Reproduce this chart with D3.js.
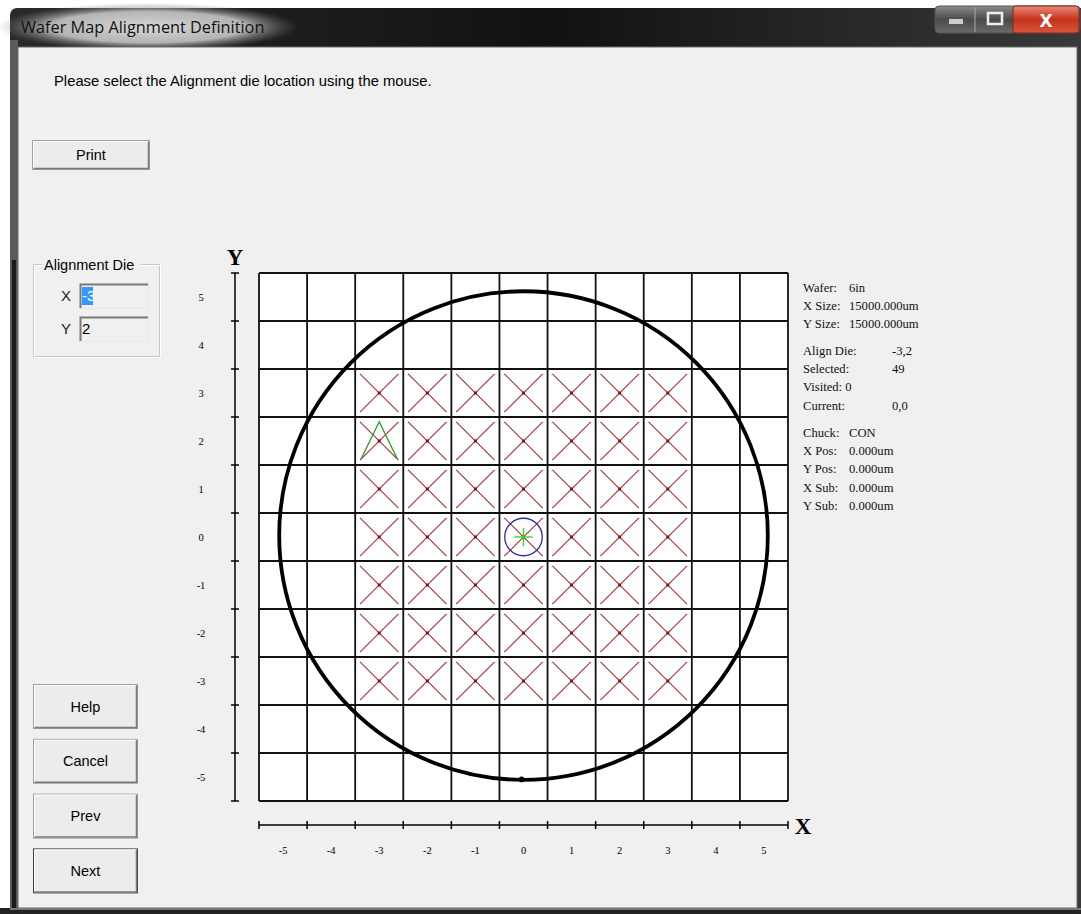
<!DOCTYPE html>
<html><head><meta charset="utf-8">
<script src="https://cdn.jsdelivr.net/npm/d3@7"></script>
<style>body{margin:0;background:#fff;overflow:hidden} svg{display:block}</style>
</head><body>
<svg id="c" width="1081" height="914"></svg>
<script>
// ---- data ----
const dieX = [-5,-4,-3,-2,-1,0,1,2,3,4,5];
const dieY = [5,4,3,2,1,0,-1,-2,-3,-4,-5];
const selectedX = [-3,-2,-1,0,1,2,3];
const selectedY = [3,2,1,0,-1,-2,-3];
const alignDie = [-3,2];
const currentDie = [0,0];
const waferDiameterUm = 152400;
const dieSizeUm = 15000;
const infoGroup1 = [["Wafer:","6in"],["X Size:","15000.000um"],["Y Size:","15000.000um"]];
const infoGroup2 = [["Align Die:","-3,2"],["Selected:","49"],["Visited: 0",""],["Current:","0,0"]];
const infoGroup3 = [["Chuck:","CON"],["X Pos:","0.000um"],["Y Pos:","0.000um"],["X Sub:","0.000um"],["Y Sub:","0.000um"]];
const navButtons = ["Help","Cancel","Prev","Next"];
const titleText = "Wafer Map Alignment Definition";
const promptText = "Please select the Alignment die location using the mouse.";

const svg = d3.select("#c");
const defs = svg.append("defs");

// ---- window chrome ----
const tg = defs.append("linearGradient").attr("id","tb").attr("x1",0).attr("x2",1).attr("y1",0).attr("y2",0);
tg.append("stop").attr("offset","0%").attr("stop-color","#2a2a2a");
tg.append("stop").attr("offset","50%").attr("stop-color","#111");
tg.append("stop").attr("offset","100%").attr("stop-color","#3a3a3a");
svg.append("rect").attr("x",10).attr("y",8).attr("width",1080).attr("height",920).attr("rx",7).attr("fill","url(#tb)");
const rg = defs.append("radialGradient").attr("id","glow");
rg.append("stop").attr("offset","0%").attr("stop-color","#d8d8d8").attr("stop-opacity",1);
rg.append("stop").attr("offset","65%").attr("stop-color","#c4c4c4").attr("stop-opacity",0.9);
rg.append("stop").attr("offset","100%").attr("stop-color","#777").attr("stop-opacity",0);
svg.append("ellipse").attr("cx",148).attr("cy",27).attr("rx",150).attr("ry",24).attr("fill","url(#glow)");
svg.append("rect").attr("x",10).attr("y",40).attr("width",8).attr("height",874).attr("fill","#5a5a5a");
svg.append("rect").attr("x",12).attr("y",260).attr("width",4).attr("height",654).attr("fill","#1a1a1a");
svg.append("text").attr("x",21).attr("y",33).attr("font-family","'Open Sans', 'Noto Sans', sans-serif")
  .attr("font-size",16.3).attr("fill","#111").text(titleText);

// caption buttons
const bg = defs.append("linearGradient").attr("id","cb").attr("x1",0).attr("x2",0).attr("y1",0).attr("y2",1);
bg.append("stop").attr("offset","0%").attr("stop-color","#8a8a8a");
bg.append("stop").attr("offset","50%").attr("stop-color","#4a4a4a");
bg.append("stop").attr("offset","100%").attr("stop-color","#6a6a6a");
const rgd = defs.append("linearGradient").attr("id","cr").attr("x1",0).attr("x2",0).attr("y1",0).attr("y2",1);
rgd.append("stop").attr("offset","0%").attr("stop-color","#e88a78");
rgd.append("stop").attr("offset","50%").attr("stop-color","#c7321c");
rgd.append("stop").attr("offset","100%").attr("stop-color","#d9553a");
svg.append("rect").attr("x",935).attr("y",6).attr("width",145).attr("height",27).attr("rx",4).attr("fill","url(#cb)").attr("stroke","#555");
svg.append("rect").attr("x",1013).attr("y",6).attr("width",66).attr("height",27).attr("rx",3).attr("fill","url(#cr)").attr("stroke","#7a2a1a");
svg.append("line").attr("x1",975).attr("x2",975).attr("y1",7).attr("y2",32).attr("stroke","#aaa");
svg.append("rect").attr("x",949).attr("y",19).attr("width",14).attr("height",5).attr("fill","#ccc");
svg.append("rect").attr("x",988).attr("y",13).attr("width",14).attr("height",11).attr("fill","none").attr("stroke","#eee").attr("stroke-width",2.5);
svg.append("text").attr("x",1046).attr("y",27).attr("text-anchor","middle").attr("font-family","'DejaVu Sans', sans-serif")
  .attr("font-weight","bold").attr("font-size",17).attr("fill","#fff").text("X");

// client area
svg.append("rect").attr("x",18).attr("y",47).attr("width",1059).attr("height",861).attr("fill","#f0f0f0").attr("stroke","#6a6a6a");
svg.append("rect").attr("x",0).attr("y",908).attr("width",1081).attr("height",6).attr("fill","#222");
svg.append("rect").attr("x",10).attr("y",908).attr("width",1071).attr("height",2).attr("fill","#777");

const uiFont = "'Liberation Sans', Arial, sans-serif";
svg.append("text").attr("x",54).attr("y",86).attr("font-family",uiFont).attr("font-size",14.8).attr("fill","#000").text(promptText);

function button(x,y,w,h,label,isDefault){
  const g = svg.append("g");
  g.append("rect").attr("x",x).attr("y",y).attr("width",w).attr("height",h).attr("fill","#ececec")
    .attr("stroke", isDefault ? "#404040" : "#a0a0a0");
  g.append("path").attr("d",`M${x+1},${y+h-1}V${y+1}H${x+w-1}`).attr("fill","none").attr("stroke","#fff");
  g.append("path").attr("d",`M${x+1},${y+h-1}H${x+w-1}V${y+1}`).attr("fill","none").attr("stroke","#7a7a7a").attr("stroke-width",1.5);
  g.append("text").attr("x",x+w/2).attr("y",y+h/2+5).attr("text-anchor","middle").attr("font-family",uiFont)
    .attr("font-size",14.5).attr("fill","#000").text(label);
}
button(32.5,140.5,117,29,"Print");
navButtons.forEach((b,i)=>button(33.5,684.5+i*54.8,104,44,b,i===3));

// group box
svg.append("rect").attr("x",33.5).attr("y",264.5).attr("width",126).attr("height",92).attr("fill","none").attr("stroke","#c8c8c8");
svg.append("rect").attr("x",34.5).attr("y",265.5).attr("width",126).attr("height",92).attr("fill","none").attr("stroke","#fff");
svg.append("rect").attr("x",42).attr("y",258).attr("width",98).attr("height",14).attr("fill","#f0f0f0");
svg.append("text").attr("x",44).attr("y",270).attr("font-family",uiFont).attr("font-size",14.5).attr("fill","#000").text("Alignment Die");
function field(y,label,val,sel){
  svg.append("text").attr("x",61).attr("y",y+18).attr("font-family",uiFont).attr("font-size",15).attr("fill","#222").text(label);
  svg.append("rect").attr("x",79.5).attr("y",y+0.5).attr("width",69).attr("height",25).attr("fill","#f0f0f0").attr("stroke","#e8e8e8");
  svg.append("path").attr("d",`M80.5,${y+25}V${y+1.5}H148`).attr("fill","none").attr("stroke","#7a7a7a").attr("stroke-width",2);
  if(sel){ svg.append("rect").attr("x",82).attr("y",y+4).attr("width",11).attr("height",18).attr("fill","#3399ff"); }
  svg.append("text").attr("x",82).attr("y",y+18).attr("font-family",uiFont).attr("font-size",15).attr("fill",sel?"#fff":"#000").text(val);
}
field(283,"X",String(alignDie[0]),true);
field(316,"Y",String(alignDie[1]),false);

// ---- wafer map ----
const x = d3.scaleLinear().domain([-5.5,5.5]).range([259,788]);
const y = d3.scaleLinear().domain([5.5,-5.5]).range([273,801]);
const bounds = d3.range(-5.5,5.6,1);
const map = svg.append("g");
map.append("rect").attr("x",x(-5.5)).attr("y",y(5.5)).attr("width",x(5.5)-x(-5.5)).attr("height",y(-5.5)-y(5.5)).attr("fill","#fff");
map.selectAll(".vl").data(bounds).join("line").attr("x1",d=>x(d)).attr("x2",d=>x(d)).attr("y1",y(5.5)).attr("y2",y(-5.5)).attr("stroke","#111").attr("stroke-width",1.8);
map.selectAll(".hl").data(bounds).join("line").attr("y1",d=>y(d)).attr("y2",d=>y(d)).attr("x1",x(-5.5)).attr("x2",x(5.5)).attr("stroke","#111").attr("stroke-width",1.8);

// selected dies
const sel = [];
selectedY.forEach(j=>selectedX.forEach(i=>sel.push([i,j])));
const inset = 0.4;
const xs = map.selectAll(".sd").data(sel).join("g");
xs.append("line").attr("x1",d=>x(d[0]-inset)).attr("y1",d=>y(d[1]+inset)).attr("x2",d=>x(d[0]+inset)).attr("y2",d=>y(d[1]-inset)).attr("stroke","#a83434").attr("stroke-width",1.1);
xs.append("line").attr("x1",d=>x(d[0]+inset)).attr("y1",d=>y(d[1]+inset)).attr("x2",d=>x(d[0]-inset)).attr("y2",d=>y(d[1]-inset)).attr("stroke","#a83434").attr("stroke-width",1.1);
xs.append("rect").attr("x",d=>x(d[0])-1.5).attr("y",d=>y(d[1])-1.5).attr("width",3).attr("height",3).attr("fill","#8a1010");

// alignment die marker
map.append("path").attr("d",`M${x(alignDie[0]-0.38)},${y(alignDie[1]-0.38)}L${x(alignDie[0])},${y(alignDie[1]+0.4)}L${x(alignDie[0]+0.38)},${y(alignDie[1]-0.38)}`)
  .attr("fill","none").attr("stroke","#2a9a2a").attr("stroke-width",1.3);

// current die marker
map.append("circle").attr("cx",x(currentDie[0])).attr("cy",y(currentDie[1])).attr("r",(x(1)-x(0))*0.39).attr("fill","none").attr("stroke","#2a2aa0").attr("stroke-width",1.3);
map.append("line").attr("x1",x(currentDie[0]-0.19)).attr("x2",x(currentDie[0]+0.19)).attr("y1",y(currentDie[1])).attr("y2",y(currentDie[1])).attr("stroke","#33dd33").attr("stroke-width",1.5);
map.append("line").attr("y1",y(currentDie[1]-0.19)).attr("y2",y(currentDie[1]+0.19)).attr("x1",x(currentDie[0])).attr("x2",x(currentDie[0])).attr("stroke","#33dd33").attr("stroke-width",1.5);

// wafer outline
const rDie = waferDiameterUm/2/dieSizeUm;
map.append("circle").attr("cx",x(0)).attr("cy",y(0.03)).attr("r",x(rDie)-x(0)).attr("fill","none").attr("stroke","#000").attr("stroke-width",3.8);
map.append("circle").attr("cx",x(-0.04)).attr("cy",y(-5.05)).attr("r",2.8).attr("fill","#000");

// ---- axes ----
const axFont = "'Liberation Serif', 'DejaVu Serif', serif";
const yAxX = 235, xAxY = 825;
svg.append("line").attr("x1",yAxX).attr("x2",yAxX).attr("y1",y(5.5)).attr("y2",y(-5.5)).attr("stroke","#000").attr("stroke-width",1.5);
svg.selectAll(".yt").data(bounds).join("line").attr("x1",yAxX-4).attr("x2",yAxX+4).attr("y1",d=>y(d)).attr("y2",d=>y(d)).attr("stroke","#000").attr("stroke-width",1.5);
svg.selectAll(".yl").data(dieY).join("text").attr("x",201).attr("y",d=>y(d)+4).attr("text-anchor","middle")
  .attr("font-family",axFont).attr("font-size",10.5).attr("fill","#000").text(d=>d);
svg.append("text").attr("x",yAxX).attr("y",265).attr("text-anchor","middle").attr("font-family",axFont).attr("font-weight","bold").attr("font-size",23).attr("fill","#000").text("Y");

svg.append("line").attr("y1",xAxY).attr("y2",xAxY).attr("x1",x(-5.5)).attr("x2",x(5.5)).attr("stroke","#000").attr("stroke-width",1.5);
svg.selectAll(".xt").data(bounds).join("line").attr("y1",xAxY-4).attr("y2",xAxY+4).attr("x1",d=>x(d)).attr("x2",d=>x(d)).attr("stroke","#000").attr("stroke-width",1.5);
svg.selectAll(".xl").data(dieX).join("text").attr("y",854).attr("x",d=>x(d)).attr("text-anchor","middle")
  .attr("font-family",axFont).attr("font-size",10.5).attr("fill","#000").text(d=>d);
svg.append("text").attr("x",803).attr("y",834).attr("text-anchor","middle").attr("font-family",axFont).attr("font-weight","bold").attr("font-size",23).attr("fill","#000").text("X");

// ---- info panel ----
function infoGroup(rows, y0, valX){
  rows.forEach((r,i)=>{
    const yy = y0 + i*18.2;
    svg.append("text").attr("x",803).attr("y",yy).attr("font-family",axFont).attr("font-size",12.6).attr("fill","#111").text(r[0]);
    if(r[1]) svg.append("text").attr("x",valX).attr("y",yy).attr("font-family",axFont).attr("font-size",12.6).attr("fill","#111").text(r[1]);
  });
}
infoGroup(infoGroup1, 292, 849);
infoGroup(infoGroup2, 355, 892);
infoGroup(infoGroup3, 437, 849);
</script>
</body></html>
